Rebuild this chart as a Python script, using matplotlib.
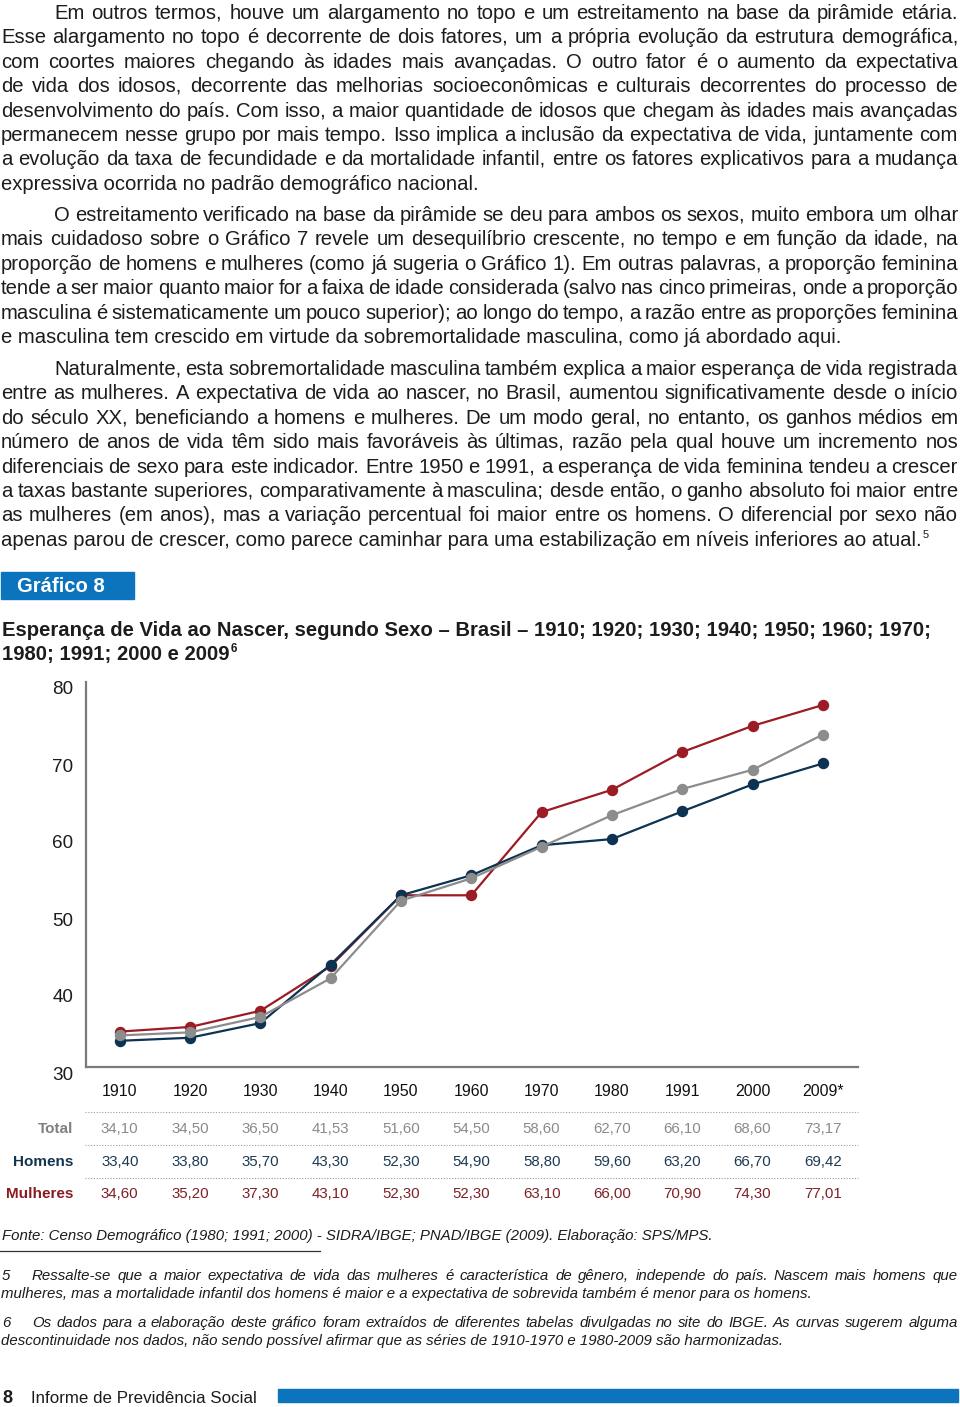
import matplotlib
matplotlib.use("Agg")
import matplotlib.pyplot as plt
from matplotlib.font_manager import FontProperties
from matplotlib.backends.backend_agg import get_hinting_flag
from matplotlib.transforms import Affine2D, blended_transform_factory, ScaledTranslation

# dados do grafico 8
anos = ["1910", "1920", "1930", "1940", "1950", "1960", "1970", "1980", "1991", "2000", "2009*"]
total = [34.10, 34.50, 36.50, 41.53, 51.60, 54.50, 58.60, 62.70, 66.10, 68.60, 73.17]
homens = [33.40, 33.80, 35.70, 43.30, 52.30, 54.90, 58.80, 59.60, 63.20, 66.70, 69.42]
mulheres = [34.60, 35.20, 37.30, 43.10, 52.30, 52.30, 63.10, 66.00, 70.90, 74.30, 77.01]
y_ticks = [30, 40, 50, 60, 70, 80]

par1 = [
    "Em outros termos, houve um alargamento no topo e um estreitamento na base da pirâmide etária.",
    "Esse alargamento no topo é decorrente de dois fatores, um a própria evolução da estrutura demográfica,",
    "com coortes maiores chegando às idades mais avançadas. O outro fator é o aumento da expectativa",
    "de vida dos idosos, decorrente das melhorias socioeconômicas e culturais decorrentes do processo de",
    "desenvolvimento do país. Com isso, a maior quantidade de idosos que chegam às idades mais avançadas",
    "permanecem nesse grupo por mais tempo. Isso implica a inclusão da expectativa de vida, juntamente com",
    "a evolução da taxa de fecundidade e da mortalidade infantil, entre os fatores explicativos para a mudança",
    "expressiva ocorrida no padrão demográfico nacional.",
]
par2 = [
    "O estreitamento verificado na base da pirâmide se deu para ambos os sexos, muito embora um olhar",
    "mais cuidadoso sobre o Gráfico 7 revele um desequilíbrio crescente, no tempo e em função da idade, na",
    "proporção de homens e mulheres (como já sugeria o Gráfico 1). Em outras palavras, a proporção feminina",
    "tende a ser maior quanto maior for a faixa de idade considerada (salvo nas cinco primeiras, onde a proporção",
    "masculina é sistematicamente um pouco superior); ao longo do tempo, a razão entre as proporções feminina",
    "e masculina tem crescido em virtude da sobremortalidade masculina, como já abordado aqui.",
]
par3 = [
    "Naturalmente, esta sobremortalidade masculina também explica a maior esperança de vida registrada",
    "entre as mulheres. A expectativa de vida ao nascer, no Brasil, aumentou significativamente desde o início",
    "do século XX, beneficiando a homens e mulheres. De um modo geral, no entanto, os ganhos médios em",
    "número de anos de vida têm sido mais favoráveis às últimas, razão pela qual houve um incremento nos",
    "diferenciais de sexo para este indicador. Entre 1950 e 1991, a esperança de vida feminina tendeu a crescer",
    "a taxas bastante superiores, comparativamente à masculina; desde então, o ganho absoluto foi maior entre",
    "as mulheres (em anos), mas a variação percentual foi maior entre os homens. O diferencial por sexo não",
    "apenas parou de crescer, como parece caminhar para uma estabilização em níveis inferiores ao atual.",
]
titulo = [
    "Esperança de Vida ao Nascer, segundo Sexo – Brasil – 1910; 1920; 1930; 1940; 1950; 1960; 1970;",
    "1980; 1991; 2000 e 2009",
]
fonte = "Fonte: Censo Demográfico (1980; 1991; 2000) - SIDRA/IBGE; PNAD/IBGE (2009). Elaboração: SPS/MPS."
nota5 = [
    "Ressalte-se que a maior expectativa de vida das mulheres é característica de gênero, independe do país. Nascem mais homens que",
    "mulheres, mas a mortalidade infantil dos homens é maior e a expectativa de sobrevida também é menor para os homens.",
]
nota6 = [
    "Os dados para a elaboração deste gráfico foram extraídos de diferentes tabelas divulgadas no site do IBGE. As curvas sugerem alguma",
    "descontinuidade nos dados, não sendo possível afirmar que as séries de 1910-1970 e 1980-2009 são harmonizadas.",
]

W, H = 960, 1407
COR_TEXTO = "#1c1c1c"
AZUL = "#0b74bd"
VERMELHO = "#9b1c24"
MARINHO = "#0e3352"
CINZA = "#8c8c8c"
SANS = ["Liberation Sans", "DejaVu Sans"]
NARROW = ["Liberation Sans Narrow", "Liberation Sans", "DejaVu Sans"]

fig = plt.figure(figsize=(W / 100, H / 100), dpi=100)
fig.patch.set_facecolor("white")
px = Affine2D().scale(1 / W, -1 / H).translate(0, 1) + fig.transFigure
renderer = fig.canvas.get_renderer()


def largura(txt, **kw):
    t = fig.text(0, 0, txt, **kw)
    w = t.get_window_extent(renderer).width
    t.remove()
    return w


def base_y(palavra, y, **kw):
    # o Agg arredonda cada palavra pela sua propria descida;
    # compensa isso para todas ficarem na mesma linha de base
    fp = FontProperties(family=kw.get("family"), style=kw.get("style", "normal"),
                        weight=kw.get("fontweight", "normal"), size=kw.get("fontsize"))
    font = renderer._prepare_font(fp)
    font.set_text(palavra, 0, flags=get_hinting_flag())
    d = font.get_descent()
    _, h = font.get_width_height()
    ymax = h - d
    return round(y) + h // 64 - int(ymax / 64) - d / 64


def linha(txt, x0, x1, y, justificar=True, **kw):
    if not justificar:
        fig.text(x0, y, txt, transform=px, va="baseline", **kw)
        return x0 + largura(txt, **kw)
    palavras = txt.split(" ")
    larg = [largura(p, **kw) for p in palavras]
    gap = (x1 - x0 - sum(larg)) / max(len(palavras) - 1, 1)
    x = x0
    for p, w in zip(palavras, larg):
        fig.text(x, base_y(p, y, **kw), p, transform=px, va="baseline", **kw)
        x += w + gap
    return x1


def paragrafo(linhas, y0, dy=24.4, indent=54, x1=958, **kw):
    for i, l in enumerate(linhas):
        x0 = indent if i == 0 else 1
        fim = linha(l, x0, x1, round(y0 + i * dy), i < len(linhas) - 1, **kw)
    return fim


corpo = dict(fontsize=14.6, family=SANS, color=COR_TEXTO)
paragrafo(par1, 19, **corpo)
paragrafo(par2, 221, **corpo)
fim = paragrafo(par3, 375, **corpo)
fig.text(fim + 1, 375 + 7 * 24.4 - 8, "5", transform=px, va="baseline",
         fontsize=8, family=SANS, color=COR_TEXTO)

# caixa "Grafico 8"
fig.patches.append(plt.Rectangle((1, 572), 133, 27, transform=px, color=AZUL))
fig.text(17, 586, "Gráfico 8", transform=px, va="center", ha="left",
         fontsize=14.6, fontweight="bold", family=SANS, color="white")

tit = dict(fontsize=14.6, fontweight="bold", family=SANS, color=COR_TEXTO)
linha(titulo[0], 2, 932, 636, False, **tit)
fim = linha(titulo[1], 2, 932, 660, False, **tit)
fig.text(fim + 1, 652, "6", transform=px, va="baseline", fontsize=8.5,
         fontweight="bold", family=SANS, color=COR_TEXTO)

# grafico
ax = fig.add_axes([86 / W, 1 - 1067 / H, (858 - 86) / W, (1067 - 682) / H])
x = list(range(len(anos)))
estilo = dict(marker="o", markersize=7.2, linewidth=1.6, clip_on=False)
ax.plot(x, mulheres, color=VERMELHO, zorder=3, **estilo)
ax.plot(x, homens, color=MARINHO, zorder=4, **estilo)
ax.plot(x, total, color=CINZA, zorder=5, **estilo)
ax.set_xlim(-0.48, 10.5)
ax.set_ylim(30, 80)
ax.set_xticks([])
ax.set_yticks(y_ticks)
ax.set_yticklabels([str(v) for v in y_ticks], fontsize=13.6, family=SANS, color=COR_TEXTO)
ax.tick_params(axis="y", length=0, pad=9)
for lb in ax.get_yticklabels():
    lb.set_transform(lb.get_transform() + ScaledTranslation(0, -0.06, fig.dpi_scale_trans))
for s in ["top", "right"]:
    ax.spines[s].set_visible(False)
for s in ["left", "bottom"]:
    ax.spines[s].set_color("#7a7a7a")
    ax.spines[s].set_linewidth(1.6)

# tabela abaixo do grafico
tab = blended_transform_factory(ax.transData, px)
for xi, a in zip(x, anos):
    ax.text(xi, 1091, a, transform=tab, ha="center", va="center",
            fontsize=11.5, family=SANS, color="#111111", clip_on=False)
for yl in [1112, 1145, 1178]:
    fig.lines.append(plt.Line2D([85, 858], [yl, yl], transform=px, color="#9a9a9a",
                                linewidth=0.8, linestyle=(0, (1, 1.5))))
linhas_tab = [
    ("Total", total, "#808080", "#8a8a8a", 1129),
    ("Homens", homens, "#15354f", "#1d3a52", 1162),
    ("Mulheres", mulheres, "#8a1a22", "#7d2027", 1194),
]
for nome, vals, cor_nome, cor_val, yy in linhas_tab:
    fig.text(73, yy, nome, transform=px, ha="right", va="center", fontsize=11,
             fontweight="bold", family=SANS, color=cor_nome)
    for xi, v in zip(x, vals):
        ax.text(xi, yy, f"{v:.2f}".replace(".", ","), transform=tab, ha="center",
                va="center", fontsize=10.8, family=SANS, color=cor_val, clip_on=False)

# fonte e notas
nota = dict(fontsize=10.85, style="italic", family=NARROW, color=COR_TEXTO)
fig.text(2, 1240, fonte, transform=px, va="baseline", **nota)
fig.lines.append(plt.Line2D([0, 320], [1251, 1251], transform=px, color="#333333", linewidth=0.9))
fig.text(2, 1280, "5", transform=px, va="baseline", **nota)
linha(nota5[0], 32, 958, 1280, True, **nota)
linha(nota5[1], 1, 958, 1298, False, **nota)
fig.text(2, 1327, "6", transform=px, va="baseline", **nota)
linha(nota6[0], 32, 958, 1327, True, **nota)
linha(nota6[1], 1, 958, 1345, False, **nota)

# rodape
fig.text(2, 1403, "8", transform=px, va="baseline", fontsize=13, fontweight="bold",
         family=SANS, color=COR_TEXTO)
fig.text(31, 1403, "Informe de Previdência Social", transform=px, va="baseline",
         fontsize=12.2, family=NARROW, color=COR_TEXTO)
fig.patches.append(plt.Rectangle((278, 1389), 680, 13, transform=px, color=AZUL))

fig.savefig("out.png", dpi=100, facecolor="white")
